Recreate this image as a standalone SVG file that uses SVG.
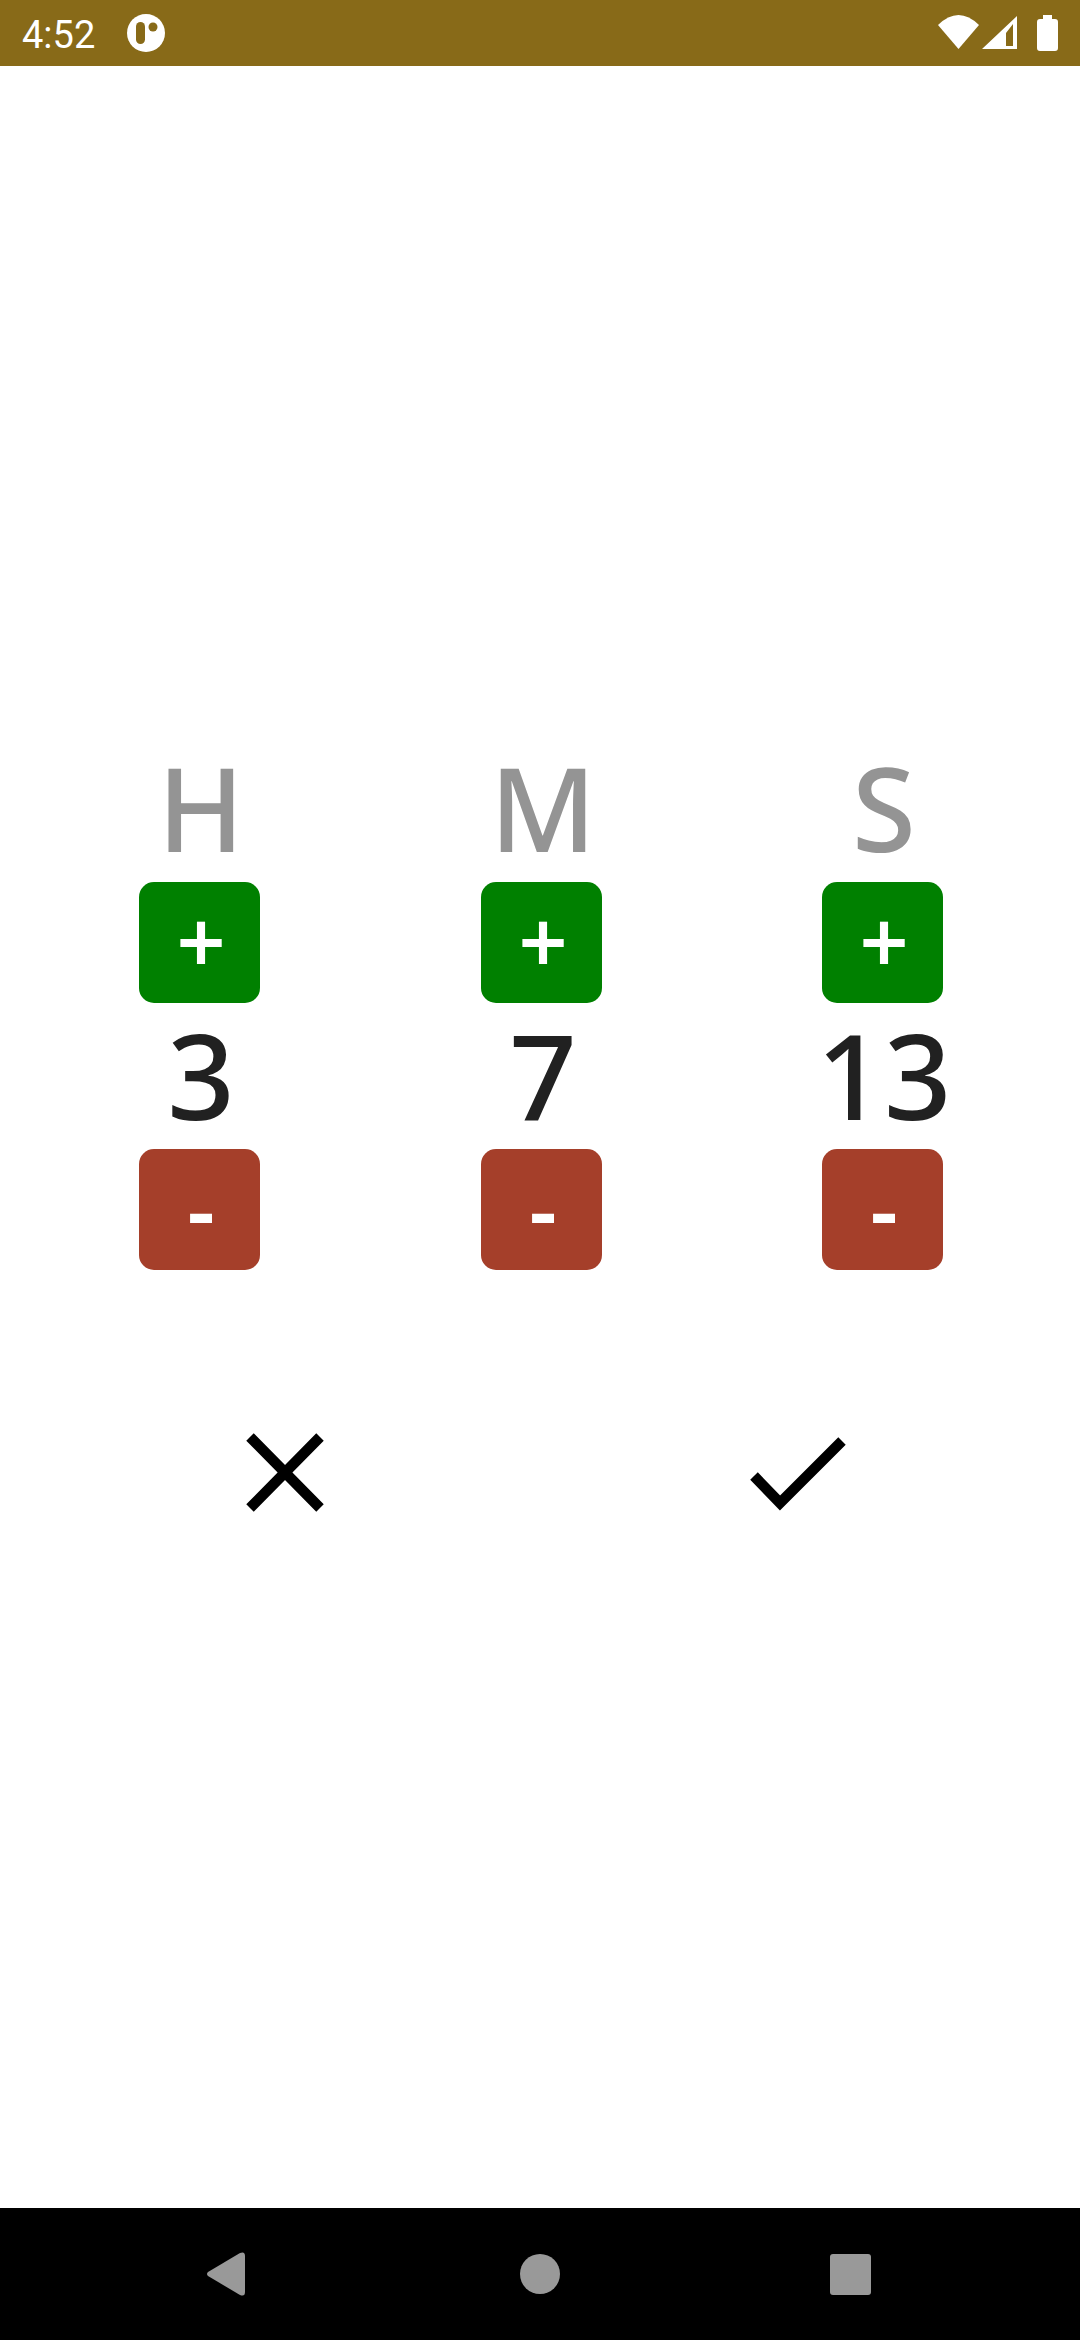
<svg xmlns="http://www.w3.org/2000/svg" width="1080" height="2340" viewBox="0 0 1080 2340">
<style>
.lbl{font-family:"Noto Sans","Open Sans",sans-serif;font-size:116px;font-weight:500;fill:#949494;text-anchor:middle}
.num{font-family:"Noto Sans","Open Sans",sans-serif;font-size:118px;font-weight:500;fill:#212121;text-anchor:middle}
.sym{font-family:"Noto Sans","Open Sans",sans-serif;font-size:86px;font-weight:600;fill:#fff;text-anchor:middle}
.plus{fill:#008000}
.minus{fill:#a53f2a}
.nav{fill:#999}
.ico{stroke:#000;stroke-width:10.5;fill:none;stroke-linejoin:miter}
</style>
<rect width="1080" height="2340" fill="#fff"/>
<g id="status-bar">
<rect width="1080" height="66" fill="#886a18"/>
<text x="22" y="48" font-family="Roboto,sans-serif" font-size="38" fill="#fff">4:52</text>
<circle cx="146" cy="33" r="19" fill="#fff"/>
<rect x="136" y="22" width="9" height="22" rx="4.5" fill="#886a18"/>
<circle cx="153" cy="27" r="4.5" fill="#886a18"/>
<path d="M938 25Q958.5 5 979 25L958.5 49Z" fill="#fff"/>
<path d="M1017 49V16L982 49ZM1006 46V33L1013 24V46Z" fill="#fff" fill-rule="evenodd"/>
<path d="M1043 19V15H1052V19H1055Q1058 19 1058 22V48Q1058 51 1055 51H1040Q1037 51 1037 48V22Q1037 19 1040 19Z" fill="#fff"/>
</g>
<g id="col-h">
<text class="lbl" x="201" y="852">H</text>
<rect class="plus" x="139" y="882" width="121" height="121" rx="15"/>
<text class="sym" x="201" y="974">+</text>
<text class="num" x="201" y="1120">3</text>
<rect class="minus" x="139" y="1149" width="121" height="121" rx="15"/>
<text class="sym" x="201" y="1242">-</text>
</g>
<g id="col-m">
<text class="lbl" x="543" y="852">M</text>
<rect class="plus" x="481" y="882" width="121" height="121" rx="15"/>
<text class="sym" x="543" y="974">+</text>
<text class="num" x="543" y="1120">7</text>
<rect class="minus" x="481" y="1149" width="121" height="121" rx="15"/>
<text class="sym" x="543" y="1242">-</text>
</g>
<g id="col-s">
<text class="lbl" x="884" y="852">S</text>
<rect class="plus" x="822" y="882" width="121" height="121" rx="15"/>
<text class="sym" x="884" y="974">+</text>
<text class="num" x="884" y="1120">13</text>
<rect class="minus" x="822" y="1149" width="121" height="121" rx="15"/>
<text class="sym" x="884" y="1242">-</text>
</g>
<g id="cancel"><path class="ico" d="M250 1437L320 1508M320 1437L250 1508"/></g>
<g id="confirm"><path class="ico" d="M754 1476L780 1503L842 1441"/></g>
<g id="nav-bar">
<rect y="2208" width="1080" height="132" fill="#000"/>
<path class="nav" d="M208 2272L240 2253Q245 2251 245 2256V2292Q245 2297 240 2295L208 2276Q206 2274 208 2272Z"/>
<circle class="nav" cx="540" cy="2274" r="20"/>
<rect class="nav" x="830" y="2254" width="41" height="41" rx="3"/>
</g>
</svg>
